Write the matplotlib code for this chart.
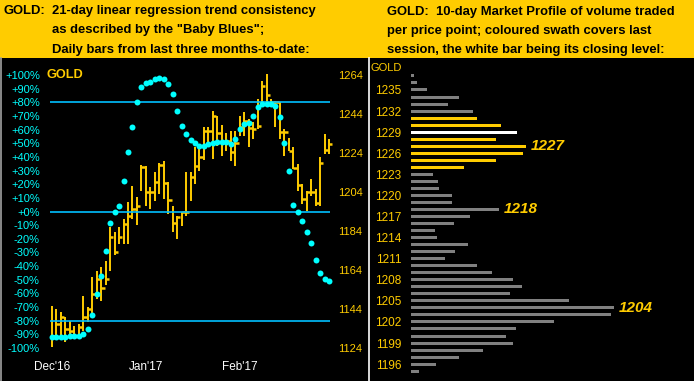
import numpy as np
import matplotlib
matplotlib.use('Agg')
import matplotlib.pyplot as plt
from matplotlib.lines import Line2D
from matplotlib.patches import Rectangle

plt.rcParams['font.family'] = ['Liberation Sans', 'DejaVu Sans']

W, H = 694, 381
GOLD = '#FFCC00'
CYAN = '#00FFFF'
LINE_BLUE = '#00BFFF'
GREY = '#808080'

# daily bars, Dec'16 .. Feb'17 (one per trading day)
highs = [1145.5, 1144.0, 1142.5, 1139.9, 1137.8, 1135.3, 1136.3, 1150.7, 1145.0, 1160.4,
         1163.5, 1165.5, 1168.6, 1186.1, 1183.5, 1186.1, 1190.2, 1198.9, 1207.1, 1201.4,
         1217.8, 1217.3, 1206.6, 1214.3, 1218.9, 1219.9, 1209.1, 1196.8, 1191.7, 1193.7,
         1214.3, 1214.3, 1227.1, 1227.1, 1237.3, 1237.3, 1245.5, 1243.0, 1238.4, 1234.3,
         1235.3, 1235.3, 1243.0, 1245.0, 1241.4, 1239.9, 1251.7, 1260.9, 1264.5, 1251.7,
         1250.7, 1250.2, 1236.3, 1231.7, 1227.1, 1218.4, 1208.1, 1204.5, 1210.7, 1205.5,
         1221.9, 1233.7, 1231.2]
lows = [1124.5, 1128.6, 1129.6, 1127.1, 1128.6, 1128.6, 1129.6, 1132.7, 1137.3, 1141.4,
        1149.1, 1148.0, 1156.3, 1163.5, 1171.7, 1177.3, 1177.3, 1177.3, 1190.2, 1187.1,
        1204.5, 1196.8, 1195.3, 1199.4, 1203.0, 1200.4, 1192.7, 1183.5, 1179.9, 1186.6,
        1191.7, 1199.4, 1208.1, 1214.8, 1220.4, 1229.6, 1220.9, 1227.6, 1222.5, 1225.0,
        1219.9, 1217.3, 1232.7, 1232.7, 1227.1, 1231.2, 1236.3, 1249.1, 1248.1, 1248.1,
        1237.3, 1231.2, 1222.5, 1225.0, 1215.8, 1204.5, 1197.8, 1194.3, 1202.0, 1196.8,
        1196.8, 1223.5, 1223.5]
closes = [1130.2, 1136.3, 1139.9, 1133.7, 1132.7, 1130.2, 1134.8, 1139.9, 1144.0, 1151.7,
          1159.4, 1155.0, 1159.4, 1180.9, 1173.2, 1180.9, 1187.6, 1191.7, 1195.3, 1196.8,
          1216.8, 1204.0, 1204.0, 1209.1, 1217.8, 1208.6, 1199.9, 1188.1, 1191.2, 1193.7,
          1193.7, 1211.7, 1217.3, 1222.0, 1235.3, 1235.3, 1243.0, 1234.3, 1229.6, 1230.2,
          1224.5, 1229.1, 1237.3, 1240.4, 1236.8, 1236.3, 1237.8, 1258.4, 1253.7, 1250.2,
          1250.2, 1234.8, 1234.8, 1225.0, 1216.3, 1207.6, 1200.4, 1204.0, 1204.0, 1198.4,
          1218.9, 1225.5, 1228.6]
# "Baby Blues" trend consistency, percent
blues = [-91.9, -92, -92, -92, -91.5, -91.5, -91.5, -90, -86.3, -75.8,
         -60.4, -47.3, -28.7, -8.2, -0.6, 4.3, 22.6, 43.8, 62.2, 80.4,
         91.5, 94.4, 95.1, 97.1, 98, 97.1, 93.4, 86.1, 73.9, 62.6,
         56.8, 52.4, 50.4, 48, 48, 49.5, 50.4, 51.2, 51.2, 51.2,
         49.5, 53.1, 60.4, 63.9, 65.1, 70, 76.8, 78.8, 78.8, 78.8,
         77.3, 69.5, 50.4, 29.9, 5.0, -0.1, -6.7, -14.8, -23.3, -35.5,
         -45.3, -49.5, -50.7]
month_labels = ["Dec'16", "Jan'17", "Feb'17"]
month_pos = [0, 21, 42]
pct_ticks = list(range(-100, 101, 10))
price_ticks = list(range(1124, 1265, 20))

# 10-day market profile
profile_prices = list(range(1237, 1194, -1))
profile_volume = [3, 6, 16, 48, 37, 62, 66, 90, 106, 85,
                  115, 112, 85, 53, 22, 27, 28, 41, 41, 88,
                  59, 43, 24, 26, 57, 44, 34, 66, 81, 102,
                  111, 99, 158, 203, 200, 143, 105, 95, 102, 72,
                  48, 25, 8]
last_session = list(range(1224, 1232))
last_close = 1229
profile_ticks = list(range(1196, 1236, 3))
profile_notes = [1227, 1218, 1204]
note_x = [120, 93, 208]


def box(x0, y0, x1, y1):
    # pixel box (top-left origin) -> figure rect
    return [x0 / W, 1 - y1 / H, (x1 - x0) / W, (y1 - y0) / H]


fig = plt.figure(figsize=(W / 100, H / 100), dpi=100, facecolor='black')

# yellow header strip
fig.patches.append(Rectangle((0, 1 - 58 / H), 1, 58 / H, transform=fig.transFigure,
                             facecolor=GOLD, edgecolor='none', zorder=0))
hdr = dict(fontsize=9.4, fontweight='bold', color='black', va='center')
fig.text(4 / W, 1 - 11 / H, 'GOLD:', **hdr)
fig.text(52 / W, 1 - 11 / H, '21-day linear regression trend consistency', **hdr)
fig.text(52 / W, 1 - 30.5 / H, 'as described by the "Baby Blues";', **hdr)
fig.text(52 / W, 1 - 50 / H, 'Daily bars from last three months-to-date:', **hdr)
fig.text(387 / W, 1 - 11.5 / H, 'GOLD:  10-day Market Profile of volume traded', **hdr)
fig.text(387 / W, 1 - 31 / H, 'per price point; coloured swath covers last', **hdr)
fig.text(387 / W, 1 - 50 / H, 'session, the white bar being its closing level:', **hdr)

# borders
fig.add_artist(Line2D([369 / W, 369 / W], [0, 1 - 58 / H], color='white', lw=1.2))
fig.add_artist(Line2D([0.8 / W, 0.8 / W], [0, 1 - 58 / H], color='#A0A0A0', lw=1.2))

# ---- left panel: bars + baby blues
idx = np.arange(len(closes))
ax = fig.add_axes(box(44, 75, 334, 348))
ax2 = ax.twinx()
ax.set_zorder(ax2.get_zorder() + 1)
ax.patch.set_visible(False)

ax.set_xlim(-1.79, 63.1)
ax.set_ylim(-100, 100)
ax2.set_ylim(1124, 1264)

ax2.vlines(idx, lows, highs, color=GOLD, lw=1.4, clip_on=False)
ax2.hlines(closes, idx, idx + 0.75, color=GOLD, lw=1.8, clip_on=False)

ax.hlines([80, 0, -80], -0.4, 62.2, color=LINE_BLUE, lw=1.2)
ax.plot(idx, blues, 'o', color=CYAN, ms=4.3, mec='none', clip_on=False)

ax.set_yticks(pct_ticks)
ax.set_yticklabels([('+%d%%' % v) if v >= 0 else ('%d%%' % v) for v in pct_ticks])
ax.tick_params(axis='y', length=0, pad=3, labelcolor=CYAN, labelsize=8)
ax.set_xticks(month_pos)
ax.set_xticklabels(month_labels)
ax.tick_params(axis='x', length=0, pad=9, labelcolor='white', labelsize=8.5)
ax2.set_yticks(price_ticks)
ax2.tick_params(axis='y', length=0, pad=3, labelcolor=GOLD, labelsize=8)
for a in (ax, ax2):
    for s in a.spines.values():
        s.set_visible(False)
ax.text(47 / W, 1 - 75 / H, 'GOLD', transform=fig.transFigure, color=GOLD,
        fontsize=9.2, fontweight='bold', va='center', ha='left')

# ---- right panel: market profile
axr = fig.add_axes(box(411, 58, 692, 381))
axr.set_facecolor('black')
axr.set_xlim(0, 281)
axr.set_ylim(1193.6, 1239.55)
colors = []
for p in profile_prices:
    if p == last_close:
        colors.append('white')
    elif p in last_session:
        colors.append(GOLD)
    else:
        colors.append(GREY)
axr.barh(profile_prices, profile_volume, height=0.43, color=colors, left=0)
axr.set_yticks(profile_ticks)
axr.tick_params(axis='y', length=0, pad=7, labelcolor=GOLD, labelsize=8.5)
axr.set_xticks([])
for s in axr.spines.values():
    s.set_visible(False)
fig.text(402 / W, 1 - 68 / H, 'GOLD', color=GOLD, fontsize=8, ha='right', va='center')
for p, x in zip(profile_notes, note_x):
    axr.text(x, p, str(p), color=GOLD, fontsize=11, fontweight='bold',
             style='italic', va='center', ha='left')

fig.savefig('out.png', dpi=100, facecolor='black')
